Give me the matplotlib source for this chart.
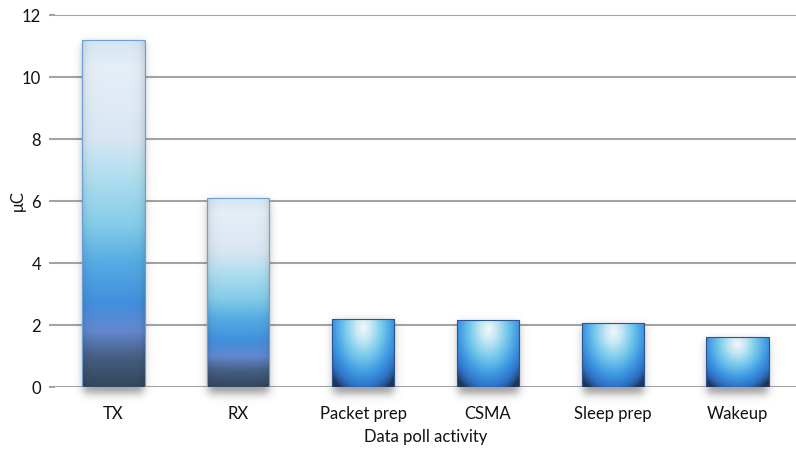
import numpy as np
import matplotlib
matplotlib.use("Agg")
import matplotlib.pyplot as plt
from matplotlib.colors import LinearSegmentedColormap

# Data poll activity charge
categories = ["TX", "RX", "Packet prep", "CSMA", "Sleep prep", "Wakeup"]
values = [11.2, 6.1, 2.2, 2.15, 2.05, 1.6]
y_ticks = [0, 2, 4, 6, 8, 10, 12]

plt.rcParams['font.family'] = ['Lato', 'DejaVu Sans']

fig = plt.figure(figsize=(7.96, 4.5), dpi=100)
ax = fig.add_axes([55 / 796, 63 / 450, 741 / 796, 372 / 450])
ax.set_xlim(-0.468, 5.468)
ax.set_ylim(0, 12)

# gradient for tall bars (v=0 bottom, 1 top)
tall_cmap = LinearSegmentedColormap.from_list("tall", [
    (0.0, "#33475f"), (0.08, "#455d80"), (0.16, "#6288cf"), (0.24, "#428fdd"),
    (0.36, "#56ace3"), (0.47, "#86cde9"), (0.62, "#b6e0f0"), (0.72, "#d9e7f3"),
    (0.92, "#e6eef7"), (1.0, "#d5e5f4")])
# radial gradient for short bars
short_cmap = LinearSegmentedColormap.from_list("short", [
    (0.0, "#f2f7fb"), (0.18, "#c4e7f3"), (0.42, "#74c8ec"), (0.66, "#3e98e2"),
    (0.84, "#2e72c6"), (0.94, "#27528e"), (1.0, "#1e3558")])

xpx = 1 / 125.0   # data units per pixel in x
ypx = 1 / 31.0    # data units per pixel in y

bars = ax.bar(range(len(categories)), values, width=0.5, color="none",
              edgecolor="none", zorder=3)

for bar, val in zip(bars, values):
    x0, w, h = bar.get_x(), bar.get_width(), bar.get_height()

    # soft shadow
    pad_x, pad_y = 20 * xpx, 22 * ypx
    sx = np.linspace(x0 - pad_x, x0 + w + pad_x, 160)
    sy = np.linspace(-pad_y, h + pad_y, 260)
    SX, SY = np.meshgrid(sx, sy)
    fx = 0.5 * (np.tanh((SX - (x0 + 1 * xpx)) / (5 * xpx)) -
                np.tanh((SX - (x0 + w - 1 * xpx)) / (5 * xpx)))
    fy = 0.5 * (np.tanh((SY - (-7 * ypx)) / (5 * ypx)) -
                np.tanh((SY - (h - 4 * ypx)) / (5 * ypx)))
    a = 0.55 * fx * fy
    shadow = np.zeros(SX.shape + (4,))
    shadow[..., :3] = 0.3
    shadow[..., 3] = a
    ax.imshow(shadow, extent=(sx[0], sx[-1], sy[0], sy[-1]), origin="lower",
              aspect="auto", zorder=2, clip_on=False, interpolation="bilinear")

    u = np.linspace(0, 1, 80)
    v = np.linspace(0, 1, 300)
    U, V = np.meshgrid(u, v)
    if val > 4:
        img = tall_cmap(V)
        edge = 1 - 0.12 * np.exp(-np.minimum(U, 1 - U) / 0.06)
        img[..., :3] *= edge[..., None]
        ec = "#6a9fd8"
    else:
        r = np.sqrt(((U - 0.5) / 0.72) ** 2 + ((V - 0.86) / 1.02) ** 2)
        img = short_cmap(np.clip(r, 0, 1))
        ec = "#2b5590"
    im = ax.imshow(img, extent=(x0, x0 + w, 0, h), origin="lower",
                   aspect="auto", zorder=3, interpolation="bilinear")
    im.set_clip_path(bar)
    ax.add_patch(plt.Rectangle((x0, 0), w, h, fill=False, edgecolor=ec,
                               linewidth=0.8, zorder=4))

ax.set_xlim(-0.468, 5.468)
ax.set_ylim(0, 12)

ax.set_yticks(y_ticks)
ax.set_xticks(range(len(categories)))
ax.set_xticklabels(categories)
ax.grid(axis="y", color="#a3a3a3", linewidth=1.5, zorder=0)
ax.set_axisbelow(True)
for s in ax.spines.values():
    s.set_visible(False)
ax.tick_params(axis="y", length=4, width=1.5, color="#a3a3a3", labelsize=12,
               pad=6, labelcolor="#111111")
ax.tick_params(axis="x", length=0, labelsize=12, pad=14, labelcolor="#111111")
ax.set_xlabel("Data poll activity", fontsize=12, labelpad=5, color="#111111")
ax.set_ylabel("μC", fontsize=12, labelpad=-3, color="#111111")

fig.savefig("out.png", dpi=100)
